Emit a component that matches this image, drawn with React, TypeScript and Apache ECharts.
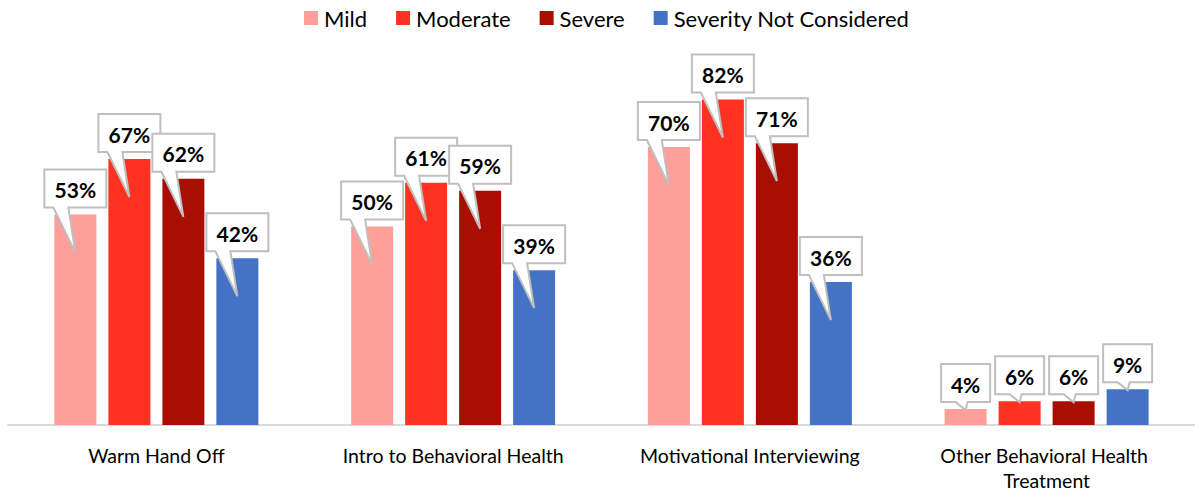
import React, { useEffect, useRef } from "react";
import * as echarts from "echarts";

const categories = [
  "Warm Hand Off",
  "Intro to Behavioral Health",
  "Motivational Interviewing",
  "Other Behavioral Health Treatment",
];
const seriesNames = ["Mild", "Moderate", "Severe", "Severity Not Considered"];
const mild = [53, 50, 70, 4];
const moderate = [67, 61, 82, 6];
const severe = [62, 59, 71, 6];
const notConsidered = [42, 39, 36, 9];
const seriesValues = [mild, moderate, severe, notConsidered];
const colors = ["#FF9F99", "#FF3222", "#A80E02", "#4472C4"];

const LABEL_FONT = "bold 21px Lato";
let measureCtx: CanvasRenderingContext2D | null = null;
function textWidth(t: string): number {
  if (!measureCtx) {
    const c = document.createElement("canvas");
    measureCtx = c.getContext("2d");
  }
  if (!measureCtx) return t.length * 12;
  measureCtx.font = LABEL_FONT;
  return measureCtx.measureText(t).width;
}

export default function App() {
  const ref = useRef<HTMLDivElement>(null);
  useEffect(() => {
    if (!ref.current) return;
    const chart = echarts.init(ref.current, undefined, { renderer: "svg" });
    const barWidth = 42;
    const step = 54;

    const barSeries = seriesNames.map((name, i) => ({
      name,
      type: "bar",
      data: seriesValues[i],
      barWidth,
      barGap: "28.57%",
      itemStyle: { color: colors[i] },
      z: 2,
    }));

    const labelSeries = seriesNames.map((name, i) => ({
      name: "lbl-" + name,
      type: "custom",
      z: 10,
      clip: false,
      silent: true,
      data: seriesValues[i].map((v, c) => [c, v]),
      renderItem: (params: any, api: any) => {
        const c = api.value(0);
        const v = api.value(1);
        const top = api.coord([c, v]);
        const base = api.coord([c, 0]);
        const cx = top[0] + (i - 1.5) * step;
        const topY = top[1];
        const h = base[1] - topY;
        const text = v + "%";
        const w = Math.round(textWidth(text) + 20);
        const boxH = 38;
        const B = topY - 7;
        const T = B - boxH;
        const L = cx - w / 2;
        const R = cx + w / 2;
        let tipY: number, b1: number, b2: number;
        if (h > 60) {
          tipY = topY + 38;
          b1 = -22;
          b2 = -7;
        } else {
          tipY = topY + 1;
          b1 = -10;
          b2 = 2;
        }
        return {
          type: "group",
          children: [
            {
              type: "polygon",
              shape: {
                points: [
                  [L, T],
                  [R, T],
                  [R, B],
                  [cx + b2, B],
                  [cx, tipY],
                  [cx + b1, B],
                  [L, B],
                ],
              },
              style: { fill: "#FFFFFF", stroke: "#BFBFBF", lineWidth: 2 },
            },
            {
              type: "text",
              x: cx,
              y: (T + B) / 2 + 1,
              style: {
                text,
                x: 0,
                y: 0,
                align: "center",
                verticalAlign: "middle",
                font: LABEL_FONT,
                fill: "#000000",
              },
            },
          ],
        };
      },
    }));

    chart.setOption({
      animation: false,
      backgroundColor: "#FFFFFF",
      legend: {
        data: seriesNames,
        top: 7,
        left: 304,
        padding: 0,
        itemWidth: 14,
        itemHeight: 14,
        itemGap: 29,
        icon: "rect",
        textStyle: { fontFamily: "Lato", fontSize: 22, color: "#000000", padding: [0, 0, 0, 1] },
      },
      grid: { left: 8, top: 28, width: 1189, height: 398 },
      xAxis: {
        type: "category",
        data: categories,
        axisTick: { show: false },
        axisLine: { lineStyle: { color: "#D9D9D9", width: 2 } },
        axisLabel: {
          fontFamily: "Lato",
          fontSize: 19.5,
          color: "#000000",
          margin: 18,
          lineHeight: 25,
          width: 230,
          overflow: "break",
          interval: 0,
        },
      },
      yAxis: {
        type: "value",
        min: 0,
        max: 100,
        show: false,
        splitLine: { show: false },
      },
      series: [...barSeries, ...labelSeries],
    });
    return () => chart.dispose();
  }, []);
  return (
    <div
      ref={ref}
      style={{ position: "fixed", left: 0, top: 0, width: "1195px", height: "493px" }}
    />
  );
}
